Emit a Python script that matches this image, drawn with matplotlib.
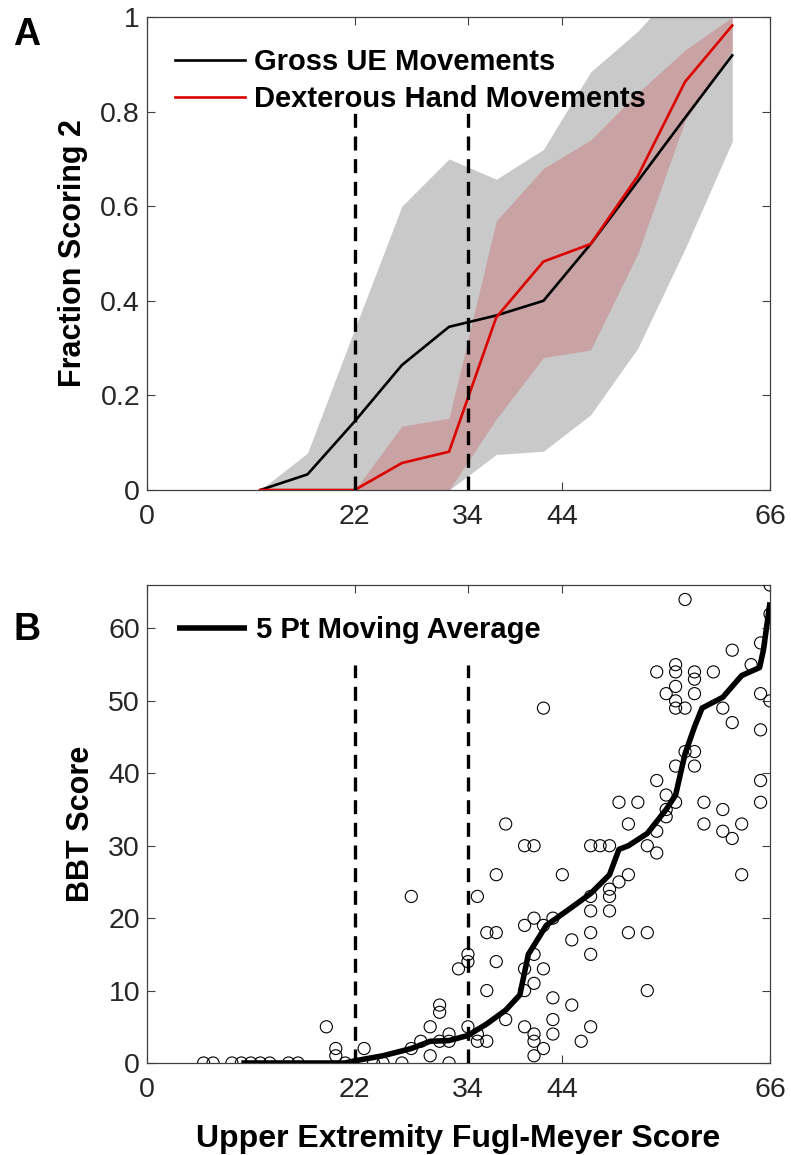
import numpy as np
import matplotlib.pyplot as plt

plt.rcParams['font.family'] = ['Liberation Sans', 'DejaVu Sans']

# ---- Panel A: fraction scoring 2 by FM bin ----
fm_bins = [12, 17, 22, 27, 32, 37, 42, 47, 52, 57, 62]
gross_mean = [0, 0.033, 0.145, 0.264, 0.345, 0.369, 0.40, 0.52, 0.653, 0.787, 0.919]
gross_lo = [0, 0, 0, 0, 0, 0.075, 0.082, 0.159, 0.30, 0.51, 0.737]
gross_hi = [0, 0.078, 0.34, 0.60, 0.70, 0.657, 0.72, 0.884, 0.97, 1.08, 1.15]
dex_mean = [0, 0, 0, 0.057, 0.081, 0.365, 0.483, 0.52, 0.664, 0.863, 0.982]
dex_lo = [0, 0, 0, 0, 0, 0.15, 0.28, 0.296, 0.50, 0.78, 0.93]
dex_hi = [0, 0, 0, 0.135, 0.152, 0.569, 0.68, 0.74, 0.84, 0.93, 1.0]

# ---- Panel B: BBT vs FM scatter ----
fm_score = [6, 7, 9, 10, 11, 12, 13, 15, 16,
            19, 20, 20, 21, 23, 24, 25, 27, 28, 28, 29, 30, 30, 31, 31, 31,
            32, 32, 32, 33, 34, 34, 34, 35, 35, 35, 36, 36, 36, 37, 37, 37,
            38, 38, 40, 41, 40, 40, 40, 40, 41, 41, 41, 41, 41, 41, 42, 42,
            42, 42, 43, 43, 43, 43, 44, 45, 45, 46, 47, 48, 49, 47, 47, 47,
            47, 47, 49, 49, 49, 50, 50, 51, 51, 51, 52, 53, 53, 53, 54, 54,
            54, 54, 55, 55, 55, 55, 56, 56, 56, 56, 56, 56, 56, 57, 57, 57,
            58, 58, 58, 58, 58, 59, 59, 60, 61, 61, 61, 62, 62, 62, 63, 63,
            64, 65, 65, 65, 65, 65, 66, 66, 66]
bbt_score = [0, 0, 0, 0, 0, 0, 0, 0, 0,
             5, 2, 1, 0, 2, 0, 0, 0, 23, 2, 3, 5, 1, 8, 7, 3,
             4, 3, 0, 13, 15, 14, 5, 23, 4, 3, 3, 10, 18, 18, 26, 14,
             33, 6, 30, 30, 19, 13, 10, 5, 20, 15, 11, 4, 3, 1, 49, 19,
             13, 2, 20, 9, 6, 4, 26, 17, 8, 3, 30, 30, 30, 23, 21, 18,
             15, 5, 24, 23, 21, 36, 25, 33, 26, 18, 36, 30, 18, 10, 54, 39,
             32, 29, 51, 37, 35, 34, 55, 54, 52, 50, 49, 41, 36, 64, 49, 43,
             54, 53, 51, 43, 41, 36, 33, 54, 49, 35, 32, 57, 47, 31, 33, 26,
             55, 58, 51, 46, 39, 36, 66, 62, 50]

# 5 pt moving average
ma_fm = [10, 21, 22, 25, 28, 30, 32, 34, 36, 38, 39.5, 40.4, 42.3, 45, 47,
         49, 50, 51, 53, 55, 56, 57, 58, 58.8, 61, 63, 64.9, 65.3, 66]
ma_bbt = [0, 0, 0.3, 1.0, 2.0, 3.0, 3.1, 3.8, 5.4, 7.3, 9.4, 15.0, 19.0, 21.5, 23.4,
          26, 29.5, 30, 31.7, 35, 37, 42.7, 46.4, 49, 50.5, 53.5, 54.6, 57, 63.6]

cutoffs = [22, 34]
fm_ticks = [0, 22, 34, 44, 66]

W, H = 791, 1155
fig = plt.figure(figsize=(W / 100, H / 100), dpi=100)
axA = fig.add_axes([147 / W, 1 - 490 / H, 623 / W, 473 / H])
axB = fig.add_axes([147 / W, 1 - 1063 / H, 623 / W, 478 / H])

frame_col = '#404040'
tick_fs = 20.5
label_fs = 22
legend_fs = 21

def style_axes(ax):
    ax.tick_params(direction='in', length=6, width=0.8, top=True, right=True,
                   labelsize=tick_fs, color=frame_col, labelcolor='#262626')
    ax.tick_params(axis='y', pad=5)
    ax.tick_params(axis='x', pad=10)
    for s in ax.spines.values():
        s.set_color(frame_col)
        s.set_linewidth(0.9)
    ax.set_xlim(0, 66)
    ax.set_xticks(fm_ticks)

# --- Panel A ---
axA.fill_between(fm_bins, gross_lo, gross_hi, color='#c9c9c9', lw=0, zorder=1)
axA.fill_between(fm_bins, dex_lo, dex_hi, color='#cc3333', alpha=0.25, lw=0, zorder=2)
axA.plot(fm_bins, gross_mean, color='black', lw=1.9, zorder=4, label='Gross UE Movements')
axA.plot(fm_bins, dex_mean, color='#dd0000', lw=1.9, zorder=4, label='Dexterous Hand Movements')
for c in cutoffs:
    axA.plot([c, c], [0, 0.8], color='black', lw=2.4, dashes=(4.2, 2.6), zorder=5)
style_axes(axA)
axA.set_ylim(0, 1)
axA.set_yticks([0, 0.2, 0.4, 0.6, 0.8, 1])
axA.set_yticklabels(['0', '0.2', '0.4', '0.6', '0.8', '1'])
axA.set_ylabel('Fraction Scoring 2', fontsize=label_fs, fontweight='bold', labelpad=9)
axA.legend(loc='upper left', bbox_to_anchor=(0.045, 0.935), frameon=False,
           prop={'weight': 'bold', 'size': legend_fs}, handlelength=2.4,
           handletextpad=0.3, labelspacing=0.33, borderaxespad=0, borderpad=0)

# --- Panel B ---
axB.scatter(fm_score, bbt_score, s=76, facecolors='none', edgecolors='black',
            linewidths=0.8, zorder=3)
axB.plot(ma_fm, ma_bbt, color='black', lw=4, solid_capstyle='butt', zorder=4,
         label='5 Pt Moving Average')
for c in cutoffs:
    axB.plot([c, c], [0, 55], color='black', lw=2.4, dashes=(4.2, 2.6), zorder=5)
style_axes(axB)
axB.set_ylim(0, 66)
axB.set_yticks([0, 10, 20, 30, 40, 50, 60])
axB.set_ylabel('BBT Score', fontsize=label_fs, fontweight='bold', labelpad=9)
axB.set_xlabel('Upper Extremity Fugl-Meyer Score', fontsize=23, fontweight='bold',
               labelpad=15)
axB.legend(loc='upper left', bbox_to_anchor=(0.048, 0.935), frameon=False,
           prop={'weight': 'bold', 'size': legend_fs}, handlelength=2.4,
           handletextpad=0.3, borderaxespad=0, borderpad=0)

fig.text(27 / W, 1 - 35 / H, 'A', fontsize=27, fontweight='bold', ha='center', va='center')
fig.text(27 / W, 1 - 630 / H, 'B', fontsize=27, fontweight='bold', ha='center', va='center')

fig.savefig('out.png', dpi=100)
